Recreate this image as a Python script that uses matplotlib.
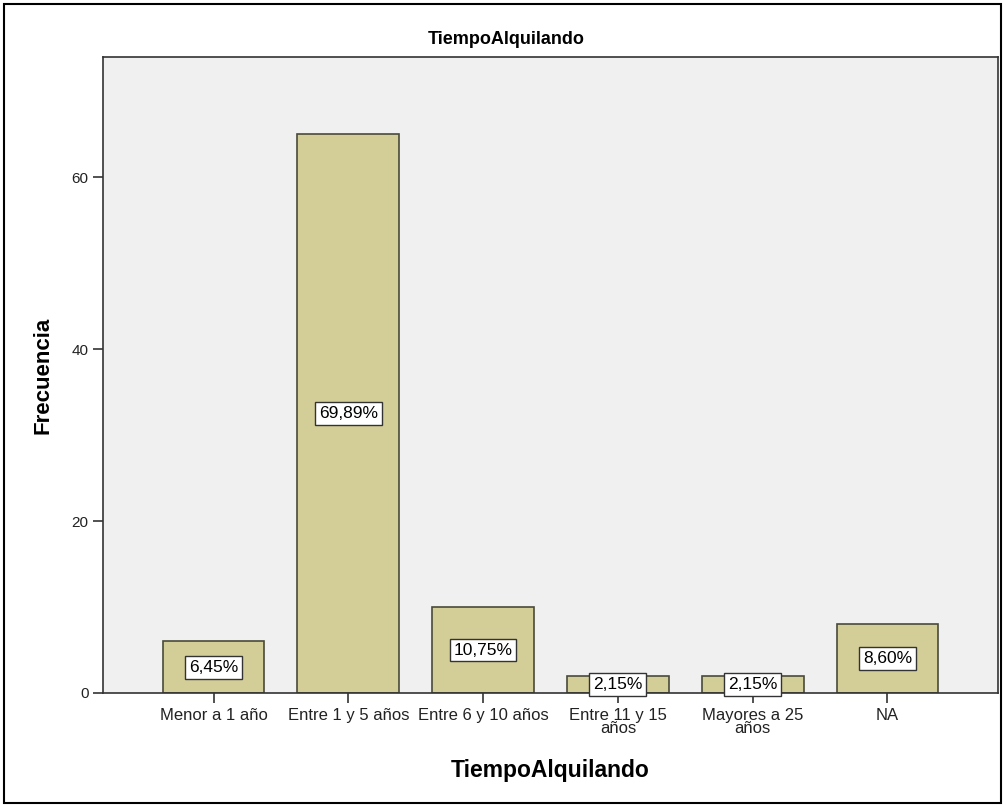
import matplotlib
matplotlib.use("Agg")
import matplotlib.pyplot as plt
from matplotlib.patches import Rectangle

categories = ["Menor a 1 año", "Entre 1 y 5 años", "Entre 6 y 10 años",
              "Entre 11 y 15\naños", "Mayores a 25\naños", "NA"]
counts = [6, 65, 10, 2, 2, 8]
pct_labels = ["6,45%", "69,89%", "10,75%", "2,15%", "2,15%", "8,60%"]
y_ticks = [0, 20, 40, 60]

plt.rcParams['font.family'] = ['Liberation Sans', 'DejaVu Sans']

fig = plt.figure(figsize=(10.05, 8.07), dpi=100)
W, H = 1005, 807
# outer border
fig.patches.append(Rectangle((4 / W, 4 / H), 997 / W, 799 / H, transform=fig.transFigure,
                             fill=False, edgecolor='black', linewidth=1.5))

ax = fig.add_axes([103 / W, (H - 693) / H, 895 / W, 636 / H])
ax.set_facecolor('#F0F0F0')
x = list(range(len(categories)))
ax.bar(x, counts, width=0.755, color='#D3CE97', edgecolor='#4A4A3A', linewidth=1.2, zorder=2)
for xi, c, lab in zip(x, counts, pct_labels):
    ax.text(xi, c / 2, lab, ha='center', va='center', fontsize=12.5, color='black', zorder=3,
            bbox=dict(boxstyle='square,pad=0.22', facecolor='white', edgecolor='#333333', linewidth=1))

ax.set_xlim(-0.82, 5.82)
ax.set_ylim(0, 74)
ax.set_xticks(x)
ax.set_xticklabels(categories, fontsize=12, color='#222222', linespacing=0.85)
ax.set_yticks(y_ticks)
ax.set_yticklabels([str(v) for v in y_ticks], fontsize=11, color='#222222')
ax.tick_params(axis='both', direction='out', length=7, width=1.2, color='#333333')
for s in ax.spines.values():
    s.set_color('#333333')
    s.set_linewidth(1.2)

ax.set_xlabel("TiempoAlquilando", fontsize=16.5, fontweight='bold', labelpad=17)
ax.set_ylabel("Frecuencia", fontsize=16, fontweight='bold', labelpad=13)
fig.text(506 / W, 1 - 40 / H, "TiempoAlquilando", ha='center', va='center',
         fontsize=13, fontweight='bold')

fig.savefig("out.png", dpi=100)
